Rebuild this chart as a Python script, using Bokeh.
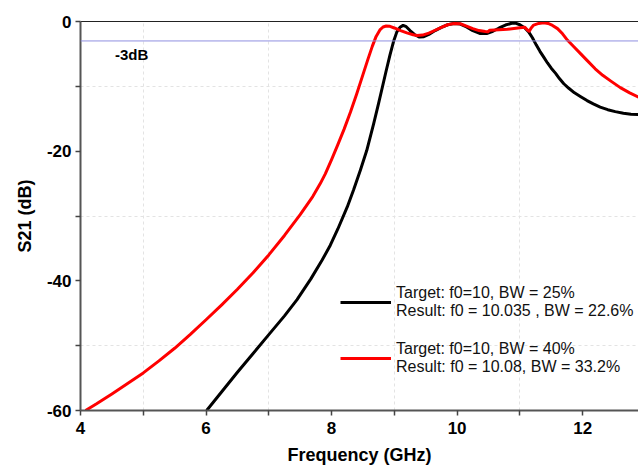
from bokeh.plotting import figure
from bokeh.models import (Range1d, FixedTicker, LinearAxis, Span, Label,
                          Legend, LegendItem, ColumnDataSource)
from bokeh.embed import file_html
from bokeh.resources import INLINE

# ---- data ----
freq_a = [6.01, 6.25, 6.5, 6.75, 7.0, 7.25, 7.45, 7.67, 7.85, 7.98, 8.1, 8.25,
          8.35, 8.46, 8.56, 8.67, 8.75, 8.81, 8.87, 8.93, 8.99, 9.04, 9.09,
          9.14, 9.19, 9.25, 9.32, 9.4, 9.47, 9.55, 9.65, 9.75, 9.85, 9.95,
          10.05, 10.15, 10.25, 10.37, 10.47, 10.57, 10.67, 10.77, 10.87, 10.93,
          11.0, 11.08, 11.14, 11.2, 11.26, 11.32, 11.38, 11.44, 11.5, 11.57,
          11.63, 11.7, 11.78, 11.87, 11.97, 12.07, 12.17, 12.28, 12.4, 12.52,
          12.65, 12.77, 12.9]
s21_a = [-60, -57.1, -54.1, -51.2, -48.3, -45.4, -42.9, -39.7, -36.8, -34.5,
         -32.0, -28.6, -26.0, -22.9, -19.9, -15.8, -12.6, -10.1, -7.6, -5.2,
         -3.0, -1.6, -0.9, -0.6, -0.8, -1.4, -2.0, -2.4, -2.35, -2.0, -1.4,
         -0.9, -0.5, -0.3, -0.4, -0.85, -1.4, -1.85, -1.85, -1.5, -1.0, -0.55,
         -0.28, -0.25, -0.5, -1.0, -1.6, -2.5, -3.6, -4.6, -5.5, -6.4, -7.2,
         -8.0, -8.8, -9.6, -10.3, -11.0, -11.6, -12.2, -12.7, -13.2, -13.6,
         -13.9, -14.15, -14.3, -14.35]

freq_b = [4.08, 4.25, 4.5, 4.75, 5.0, 5.25, 5.5, 5.75, 6.0, 6.25, 6.5, 6.75,
          7.0, 7.25, 7.5, 7.7, 7.82, 7.9, 8.0, 8.1, 8.2, 8.3, 8.4, 8.5, 8.58,
          8.65, 8.71, 8.77, 8.82, 8.87, 8.93, 9.0, 9.1, 9.2, 9.3, 9.36, 9.45,
          9.55, 9.65, 9.75, 9.85, 9.95, 10.05, 10.15, 10.25, 10.35, 10.45,
          10.49, 10.52, 10.6, 10.8, 11.0, 11.08, 11.12, 11.15, 11.18, 11.22,
          11.3, 11.38, 11.45, 11.52, 11.6, 11.68, 11.76, 11.86, 11.97, 12.07,
          12.2, 12.32, 12.45, 12.6, 12.75, 12.9]
s21_b = [-60, -59.0, -57.45, -55.85, -54.2, -52.35, -50.4, -48.25, -46.0,
         -43.7, -41.3, -38.75, -36.0, -33.0, -29.8, -27.0, -25.0, -23.5, -21.3,
         -19.0, -16.6, -14.0, -11.2, -8.2, -5.8, -3.8, -2.3, -1.3, -0.85,
         -0.7, -0.75, -1.0, -1.4, -1.75, -2.05, -2.15, -2.1, -1.8, -1.35,
         -0.9, -0.5, -0.3, -0.35, -0.7, -1.1, -1.4, -1.55, -1.6, -1.35, -1.3,
         -1.2, -0.95, -0.9, -1.3, -1.5, -1.0, -0.55, -0.3, -0.2, -0.3, -0.6,
         -1.1, -1.9, -2.9, -3.9, -5.0, -6.0, -7.3, -8.3, -9.2, -10.2, -11.0,
         -11.7]

label_a = "Target: f0=10, BW = 25%\nResult: f0 = 10.035 , BW = 22.6%"
label_b = "Target: f0=10, BW = 40%\nResult: f0 = 10.08, BW = 33.2%"

x_major = [4, 6, 8, 10, 12]
x_minor = [5, 7, 9, 11, 13]
y_major = [-60, -40, -20, 0]
y_minor = [-50, -30, -10]
x_grid = [5, 7, 9, 11]
ref_level = -3
ref_text = "-3dB"

FONT = "Liberation Sans"

p = figure(width=638, height=467, output_backend="svg", toolbar_location=None,
           x_range=Range1d(4, 12.89), y_range=Range1d(-60, 0),
           min_border_left=80, min_border_right=0, min_border_top=21,
           min_border_bottom=56)
p.outline_line_color = None
p.background_fill_color = "white"

# grids at minor positions, dashed light
p.xgrid.ticker = FixedTicker(ticks=x_grid)
p.ygrid.ticker = FixedTicker(ticks=y_minor)
for g in (p.xgrid, p.ygrid):
    g.grid_line_color = "#e3e3e3"
    g.grid_line_dash = "3 3"
    g.grid_line_width = 1

ax = p.xaxis[0]
ax.ticker = FixedTicker(ticks=x_major, minor_ticks=x_minor)
ay = p.yaxis[0]
ay.ticker = FixedTicker(ticks=y_major, minor_ticks=y_minor)
ay.major_label_overrides = {v: str(v) for v in y_major}
for a in (ax, ay):
    a.axis_line_color = "#555555"
    a.axis_line_width = 2
    a.major_tick_line_color = "#444444"
    a.minor_tick_line_color = "#444444"
    a.major_tick_line_width = 1.5
    a.minor_tick_line_width = 1.5
    a.major_tick_out = 5
    a.major_tick_in = 0
    a.minor_tick_out = 5
    a.minor_tick_in = 0
    a.major_label_text_font = FONT
    a.major_label_text_font_style = "bold"
    a.major_label_text_font_size = "17px"
    a.major_label_text_color = "black"
    a.axis_label_text_font = FONT
    a.axis_label_text_font_style = "bold"
    a.axis_label_text_font_size = "18px"
    a.axis_label_text_color = "black"
ax.axis_label = "Frequency (GHz)"
ay.axis_label = "S21 (dB)"
ax.major_label_standoff = 6
ax.axis_label_standoff = 8
ay.major_label_standoff = 4
ay.axis_label_standoff = 9

top = LinearAxis(ticker=FixedTicker(ticks=[]), axis_line_color="#222222",
                 axis_line_width=1, major_tick_line_color=None,
                 minor_tick_line_color=None, major_label_text_font_size="0px")
p.add_layout(top, "above")

p.add_layout(Span(location=ref_level, dimension="width",
                  line_color="#8f8fe0", line_width=1))
p.add_layout(Label(x=4.55, y=-3.8, text=ref_text, text_font=FONT,
                   text_font_style="bold", text_font_size="15px",
                   text_baseline="top", text_color="black"))

src_a = ColumnDataSource(dict(x=freq_a, y=s21_a))
src_b = ColumnDataSource(dict(x=freq_b, y=s21_b))
ra = p.line("x", "y", source=src_a, line_color="black", line_width=3,
            line_join="round")
rb = p.line("x", "y", source=src_b, line_color="#ff0000", line_width=3,
            line_join="round")

leg = Legend(items=[LegendItem(label=label_a, renderers=[ra]),
                    LegendItem(label=label_b, renderers=[rb])],
             location=(260, 34), orientation="vertical")
leg.border_line_color = None
leg.background_fill_alpha = 0
leg.padding = 0
leg.margin = 0
leg.spacing = 20
leg.glyph_width = 51
leg.label_standoff = 5
leg.label_text_font = FONT
leg.label_text_font_size = "16px"
leg.label_text_line_height = 1.25
leg.label_text_color = "#111111"
p.add_layout(leg, "center")

open("out.html", "w").write(file_html(p, INLINE))
